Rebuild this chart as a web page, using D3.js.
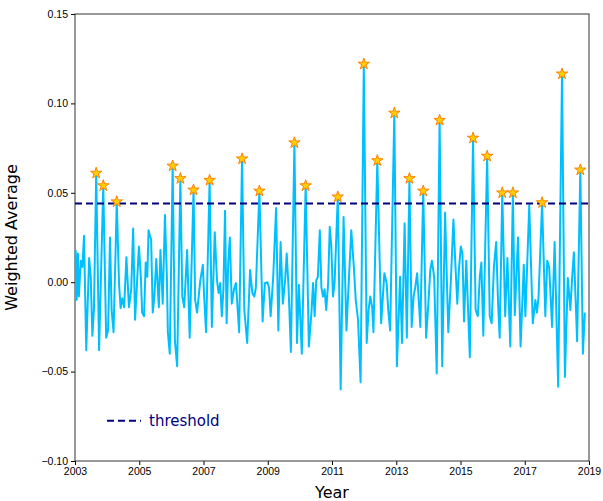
<!DOCTYPE html>
<html>
<head>
<meta charset="utf-8">
<script src="https://cdn.jsdelivr.net/npm/d3@7"></script>
<style>
  body { margin: 0; background: #fff; }
  svg { font-family: "DejaVu Sans", sans-serif; }
  .tick text { font-size: 10.5px; fill: #000; }
  .tick line { stroke: #000; }
</style>
</head>
<body>
<div id="chart"></div>
<script>
// weighted average, [year, value]
const years = [
  2003.02, 2003.05, 2003.09, 2003.12, 2003.18, 2003.23, 2003.28, 2003.35, 2003.44, 2003.49,
  2003.54, 2003.59, 2003.66, 2003.75, 2003.88, 2003.97, 2004.03, 2004.09, 2004.14, 2004.20,
  2004.30, 2004.37, 2004.42, 2004.47, 2004.53, 2004.60, 2004.68, 2004.75, 2004.81, 2004.87,
  2004.92, 2004.99, 2005.05, 2005.09, 2005.15, 2005.20, 2005.25, 2005.29, 2005.33, 2005.37,
  2005.42, 2005.47, 2005.53, 2005.61, 2005.66, 2005.73, 2005.80, 2005.86, 2005.89, 2005.95,
  2006.04, 2006.11, 2006.18, 2006.28, 2006.34, 2006.40, 2006.49, 2006.57, 2006.69, 2006.74,
  2006.80, 2006.85, 2006.90, 2006.98, 2007.02, 2007.08, 2007.19, 2007.26, 2007.35, 2007.42,
  2007.47, 2007.52, 2007.57, 2007.62, 2007.67, 2007.72, 2007.77, 2007.82, 2007.88, 2007.95,
  2008.01, 2008.11, 2008.20, 2008.27, 2008.36, 2008.45, 2008.52, 2008.58, 2008.63, 2008.74,
  2008.84, 2008.91, 2008.99, 2009.04, 2009.09, 2009.17, 2009.26, 2009.33, 2009.40, 2009.47,
  2009.54, 2009.59, 2009.65, 2009.72, 2009.83, 2009.91, 2009.97, 2010.06, 2010.18, 2010.28,
  2010.36, 2010.41, 2010.46, 2010.51, 2010.56, 2010.62, 2010.67, 2010.72, 2010.77, 2010.82,
  2010.88, 2010.93, 2010.98, 2011.03, 2011.08, 2011.18, 2011.27, 2011.36, 2011.45, 2011.52,
  2011.60, 2011.68, 2011.74, 2011.81, 2011.89, 2011.99, 2012.08, 2012.14, 2012.19, 2012.25,
  2012.29, 2012.41, 2012.53, 2012.63, 2012.70, 2012.75, 2012.81, 2012.94, 2013.02, 2013.12,
  2013.18, 2013.26, 2013.33, 2013.41, 2013.48, 2013.54, 2013.59, 2013.65, 2013.70, 2013.75,
  2013.84, 2013.93, 2014.00, 2014.06, 2014.11, 2014.18, 2014.26, 2014.35, 2014.43, 2014.52,
  2014.62, 2014.70, 2014.78, 2014.83, 2014.90, 2014.95, 2015.01, 2015.06, 2015.11, 2015.18,
  2015.29, 2015.39, 2015.47, 2015.54, 2015.60, 2015.65, 2015.71, 2015.83, 2015.91, 2015.97,
  2016.04, 2016.11, 2016.17, 2016.22, 2016.30, 2016.39, 2016.46, 2016.55, 2016.63, 2016.69,
  2016.79, 2016.87, 2016.97, 2017.02, 2017.14, 2017.25, 2017.33, 2017.38, 2017.43, 2017.54,
  2017.64, 2017.70, 2017.76, 2017.85, 2017.93, 2018.04, 2018.16, 2018.25, 2018.34, 2018.42,
  2018.47, 2018.53, 2018.63, 2018.73, 2018.81, 2018.87
];
const values = [
  0.018, -0.010, 0.016, -0.008, 0.012, 0.0085, 0.026, -0.038, 0.0135, 0.003,
  -0.030, -0.015, 0.061, -0.038, 0.054, -0.031, -0.027, 0.025, -0.0155, -0.028,
  0.045, -0.0005, -0.0145, -0.009, -0.014, 0.014, -0.014, -0.004, 0.030, -0.021,
  -0.004, 0.020, 0.003, -0.017, -0.019, 0.011, 0.003, 0.029, 0.026, 0.024,
  -0.017, -0.008, 0.013, -0.014, 0.018, -0.012, 0.0376, 0.003, -0.028, -0.040,
  0.065, -0.033, -0.047, 0.058, -0.008, -0.014, 0.018, -0.031, 0.0516, -0.010,
  -0.017, -0.008, 0.001, 0.0097, -0.008, -0.028, 0.057, -0.025, 0.028, 0.001,
  -0.006, -0.0005, -0.019, -0.004, 0.040, -0.023, 0.011, 0.025, -0.012, -0.004,
  -0.0005, -0.028, 0.069, -0.0155, -0.034, 0.0068, -0.006, -0.008, -0.003, 0.051,
  -0.022, -0.0005, 0.0, -0.003, -0.019, 0.003, 0.0415, -0.027, 0.0225, -0.012,
  0.001, 0.016, -0.004, -0.039, 0.078, -0.034, -0.0016, -0.040, 0.054, -0.036,
  -0.017, -0.0005, -0.019, 0.001, 0.003, 0.029, -0.003, -0.008, -0.004, -0.0155,
  -0.0005, 0.031, 0.020, -0.008, -0.0005, 0.0477, -0.060, 0.0365, -0.027, -0.0005,
  0.029, 0.0085, -0.010, -0.021, -0.056, 0.122, -0.034, -0.0155, -0.008, -0.014,
  -0.028, 0.068, -0.023, 0.005, -0.0005, -0.0155, -0.027, 0.0946, -0.047, 0.003,
  -0.034, 0.033, -0.031, 0.058, -0.025, -0.008, -0.003, 0.005, -0.010, -0.025,
  0.051, -0.031, -0.012, 0.007, 0.012, 0.003, -0.051, 0.0906, -0.047, 0.039,
  -0.028, 0.001, 0.035, 0.014, -0.012, 0.0068, 0.020, 0.016, -0.022, 0.012,
  -0.042, 0.0806, -0.0155, -0.019, 0.003, 0.011, -0.030, 0.0705, -0.019, -0.023,
  0.0085, 0.0225, -0.012, -0.031, 0.050, -0.019, 0.0135, -0.036, 0.050, -0.0185,
  0.025, -0.036, 0.0097, -0.019, 0.043, -0.023, -0.010, -0.017, -0.008, 0.0445,
  -0.019, 0.012, 0.0085, -0.025, 0.0225, -0.0585, 0.1165, -0.053, 0.0023, -0.0155,
  0.001, 0.0168, -0.033, 0.0628, -0.040, -0.017
];
const threshold = 0.044;
const xTicks = [2003, 2005, 2007, 2009, 2011, 2013, 2015, 2017, 2019];
const yTicks = [-0.10, -0.05, 0.00, 0.05, 0.10, 0.15];

const W = 603, H = 501;
const margin = {top: 14, right: 14, bottom: 40, left: 75};
const width = W - margin.left - margin.right;
const height = H - margin.top - margin.bottom;

const svg = d3.select("#chart").append("svg")
    .attr("width", W)
    .attr("height", H);
const g = svg.append("g")
    .attr("transform", `translate(${margin.left},${margin.top})`);

const x = d3.scaleLinear().domain([2003, 2019]).range([0, width]);
const y = d3.scaleLinear().domain([-0.10, 0.15]).range([height, 0]);

const data = years.map((yr, i) => ({year: yr, value: values[i]}));
const peaks = data.filter(d => d.value > threshold);

const fmtY = v => d3.format(".2f")(v).replace("-", "\u2212");

g.append("g")
    .attr("transform", `translate(0,${height})`)
    .call(d3.axisBottom(x).tickValues(xTicks).tickFormat(d3.format("d")).tickSize(4).tickPadding(3))
    .call(a => a.select(".domain").remove());

g.append("g")
    .call(d3.axisLeft(y).tickValues(yTicks).tickFormat(fmtY).tickSize(4).tickPadding(3))
    .call(a => a.select(".domain").remove());

// frame
g.append("rect")
    .attr("width", width)
    .attr("height", height)
    .attr("fill", "none")
    .attr("stroke", "#333")
    .attr("stroke-width", 1);

const line = d3.line()
    .x(d => x(d.year))
    .y(d => y(d.value));

g.append("path")
    .datum(data)
    .attr("fill", "none")
    .attr("stroke", "#00bfff")
    .attr("stroke-width", 2)
    .attr("stroke-linejoin", "round")
    .attr("d", line);

g.append("line")
    .attr("x1", 0)
    .attr("x2", width)
    .attr("y1", y(threshold))
    .attr("y2", y(threshold))
    .attr("stroke", "#000080")
    .attr("stroke-width", 2)
    .attr("stroke-dasharray", "7,4");

g.selectAll(".peak")
    .data(peaks)
    .enter().append("path")
    .attr("class", "peak")
    .attr("transform", d => `translate(${x(d.year)},${y(d.value)})`)
    .attr("d", d3.symbol().type(d3.symbolStar).size(40))
    .attr("fill", "#ffd000")
    .attr("stroke", "#ff8000")
    .attr("stroke-width", 1);

// legend
const lg = g.append("g").attr("transform", `translate(32,${y(-0.0775)})`);
lg.append("line")
    .attr("x1", 0).attr("x2", 34)
    .attr("stroke", "#000080")
    .attr("stroke-width", 2)
    .attr("stroke-dasharray", "7,4");
lg.append("text")
    .attr("x", 42)
    .attr("dy", "0.35em")
    .attr("fill", "#000080")
    .style("font-size", "15px")
    .text("threshold");

// axis labels
g.append("text")
    .attr("x", width / 2)
    .attr("y", height + 37)
    .attr("text-anchor", "middle")
    .style("font-size", "16px")
    .text("Year");

g.append("text")
    .attr("transform", `translate(${-58},${height / 2}) rotate(-90)`)
    .attr("text-anchor", "middle")
    .style("font-size", "16px")
    .text("Weighted Average");
</script>
</body>
</html>
